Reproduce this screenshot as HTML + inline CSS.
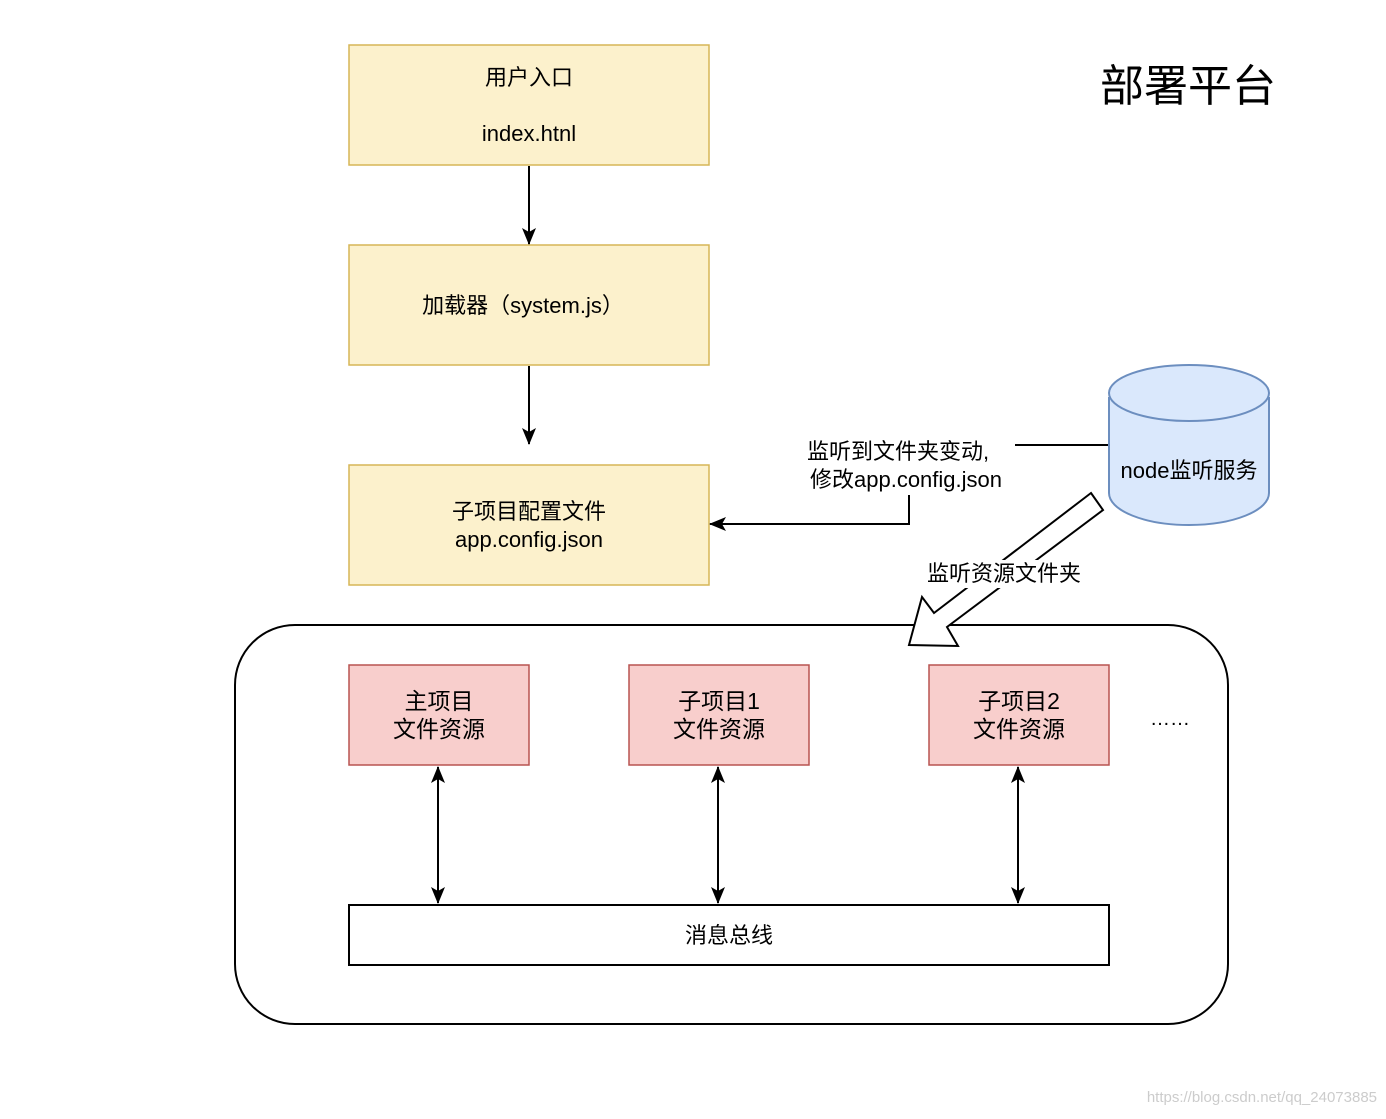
<!DOCTYPE html>
<html><head><meta charset="utf-8"><style>
body{margin:0;background:#fff;}
svg text{font-family:"Liberation Sans","Noto Sans CJK SC",sans-serif;fill:#000;}
</style></head><body>
<svg width="1386" height="1114" viewBox="0 0 1386 1114" xmlns="http://www.w3.org/2000/svg">
<defs><marker id="a" markerWidth="18" markerHeight="16" refX="16" refY="8" orient="auto-start-reverse" markerUnits="userSpaceOnUse"><path d="M0,1 L17,8 L0,15 L4,8 z" fill="#000"/></marker></defs>
<text x="1188" y="101" font-size="44" text-anchor="middle">部署平台</text>
<rect x="349" y="45" width="360" height="120" fill="#fcf1cc" stroke="#d6b656" stroke-width="1.5"/>
<text x="529" y="85" font-size="22" text-anchor="middle">用户入口</text>
<text x="529" y="141" font-size="22" text-anchor="middle">index.htnl</text>
<rect x="349" y="245" width="360" height="120" fill="#fcf1cc" stroke="#d6b656" stroke-width="1.5"/>
<text x="523" y="313" font-size="22" text-anchor="middle">加载器（system.js）</text>
<rect x="349" y="465" width="360" height="120" fill="#fcf1cc" stroke="#d6b656" stroke-width="1.5"/>
<text x="529" y="519" font-size="22" text-anchor="middle">子项目配置文件</text>
<text x="529" y="547" font-size="22" text-anchor="middle">app.config.json</text>
<line x1="529" y1="166" x2="529" y2="244" stroke="#000" stroke-width="2" marker-end="url(#a)"/>
<line x1="529" y1="366" x2="529" y2="444" stroke="#000" stroke-width="2" marker-end="url(#a)"/>
<polyline points="1108,445 1015,445" fill="none" stroke="#000" stroke-width="2"/>
<polyline points="909,495 909,524 710,524" fill="none" stroke="#000" stroke-width="2" marker-end="url(#a)"/>
<text x="898" y="459" font-size="22" text-anchor="middle">监听到文件夹变动,</text>
<text x="906" y="487" font-size="22" text-anchor="middle">修改app.config.json</text>
<path d="M1109,397 L1109,493 A80,32 0 0 0 1269,493 L1269,397" fill="#dae8fc" stroke="#6c8ebf" stroke-width="2"/>
<ellipse cx="1189" cy="393" rx="80" ry="28" fill="#dae8fc" stroke="#6c8ebf" stroke-width="2"/>
<text x="1189" y="478" font-size="22" text-anchor="middle">node监听服务</text>
<rect x="235" y="625" width="993" height="399" rx="60" fill="#fff" stroke="#000" stroke-width="2"/>
<polygon points="1091,493 1103,510 947,627 958,646 909,645 922,597 934,613" fill="#fff" stroke="#000" stroke-width="2"/>
<rect x="918" y="560" width="174" height="28" fill="#fff"/>
<text x="1004" y="581" font-size="22" text-anchor="middle">监听资源文件夹</text>
<rect x="349" y="665" width="180" height="100" fill="#f8cecc" stroke="#b85450" stroke-width="1.5"/>
<rect x="629" y="665" width="180" height="100" fill="#f8cecc" stroke="#b85450" stroke-width="1.5"/>
<rect x="929" y="665" width="180" height="100" fill="#f8cecc" stroke="#b85450" stroke-width="1.5"/>
<text x="439" y="709" font-size="23" text-anchor="middle">主项目</text>
<text x="439" y="737" font-size="23" text-anchor="middle">文件资源</text>
<text x="719" y="709" font-size="23" text-anchor="middle">子项目1</text>
<text x="719" y="737" font-size="23" text-anchor="middle">文件资源</text>
<text x="1019" y="709" font-size="23" text-anchor="middle">子项目2</text>
<text x="1019" y="737" font-size="23" text-anchor="middle">文件资源</text>
<text x="1170" y="725" font-size="20" text-anchor="middle">……</text>
<line x1="438" y1="767" x2="438" y2="903" stroke="#000" stroke-width="2" marker-start="url(#a)" marker-end="url(#a)"/>
<line x1="718" y1="767" x2="718" y2="903" stroke="#000" stroke-width="2" marker-start="url(#a)" marker-end="url(#a)"/>
<line x1="1018" y1="767" x2="1018" y2="903" stroke="#000" stroke-width="2" marker-start="url(#a)" marker-end="url(#a)"/>
<rect x="349" y="905" width="760" height="60" fill="#fff" stroke="#000" stroke-width="2"/>
<text x="729" y="943" font-size="22" text-anchor="middle">消息总线</text>
<text x="1377" y="1102" font-size="15" text-anchor="end" style="fill:#ccc">https://blog.csdn.net/qq_24073885</text>
</svg>
</body></html>
